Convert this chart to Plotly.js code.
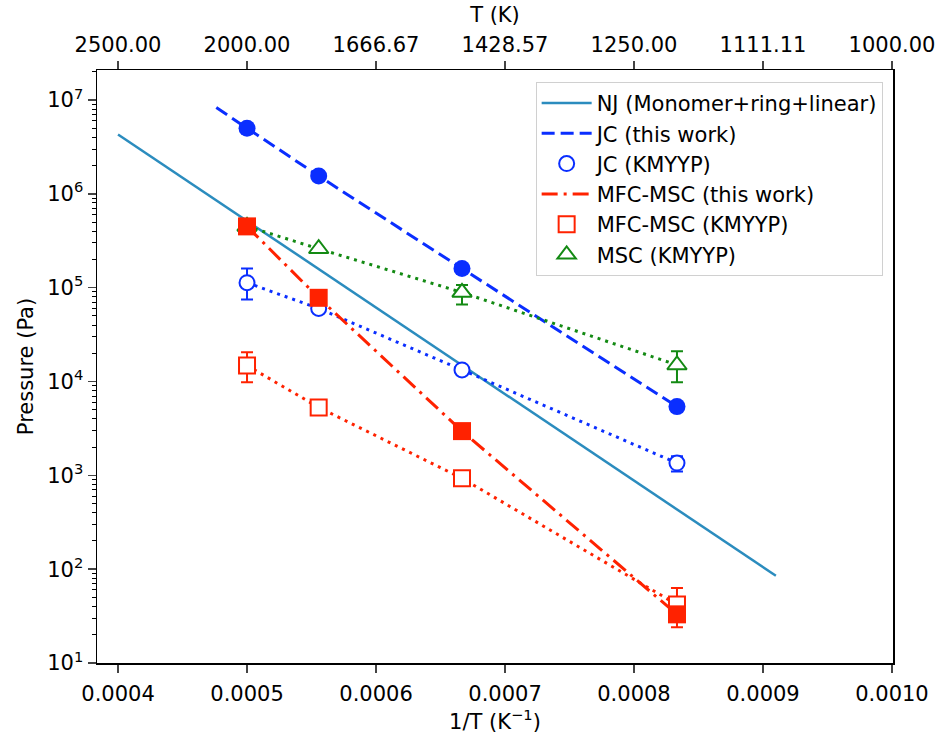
<!DOCTYPE html>
<html>
<head>
<meta charset="utf-8">
<script src="https://cdn.plot.ly/plotly-3.0.1.min.js"></script>
<style>html,body{margin:0;padding:0;background:#fff;}#chart{width:940px;height:735px;}</style>
</head>
<body>
<div id="chart"></div>
<script>
// 1/T values (K^-1)
const invT = [1/2000, 1/1800, 1/1500, 1/1200];

// NJ (Monomer+ring+linear) line endpoints
const njX = [0.0004, 0.00091];
const njY = [4.3e6, 85];

// JC (this work)
const jcLineX = [1/2100, 1/2000, 1/1800, 1/1500, 1/1200];
const jcLineY = [8.3e6, 5.0e6, 1.55e6, 1.6e5, 5.4e3];
const jcY = [5.0e6, 1.55e6, 1.6e5, 5.4e3];

// JC (KMYYP)
const jcKY = [1.13e5, 6.0e4, 1.33e4, 1.35e3];
const jcKErrPlus = [4.7e4, null, 1.5e3, 2.5e2];
const jcKErrMinus = [3.8e4, null, 1.5e3, 2.5e2];

// MFC-MSC (this work)
const mfcY = [4.5e5, 7.8e4, 2.96e3, 33];

// MFC-MSC (KMYYP)
const mfcKY = [1.48e4, 5.3e3, 9.3e2, 42];
const mfcKErrPlus = [5.7e3, null, null, 21];
const mfcKErrMinus = [5.0e3, null, null, 18];

// MSC (KMYYP)
const mscKY = [4.5e5, 2.6e5, 8.9e4, 1.5e4];
const mscKErrPlus = [null, null, 1.8e4, 6.0e3];
const mscKErrMinus = [null, null, 2.3e4, 5.2e3];

// axis ticks
const xTicks = [0.0004, 0.0005, 0.0006, 0.0007, 0.0008, 0.0009, 0.0010];
const xTickText = ['0.0004','0.0005','0.0006','0.0007','0.0008','0.0009','0.0010'];
const topTickText = ['2500.00','2000.00','1666.67','1428.57','1250.00','1111.11','1000.00'];
const yTicks = [1e1, 1e2, 1e3, 1e4, 1e5, 1e6, 1e7];
const yTickText = ['10<sup>1</sup>','10<sup>2</sup>','10<sup>3</sup>','10<sup>4</sup>','10<sup>5</sup>','10<sup>6</sup>','10<sup>7</sup>'];

const BLUE = '#0a2eff', RED = '#ff2200', GREEN = '#138a13', NJC = '#2b8cbe';
const DOT = '3px,5px';

// error-bar-only trace for the points that carry an error bar
function errTrace(ys, plus, minus, color) {
  const idx = plus.map((v, i) => v == null ? -1 : i).filter(i => i >= 0);
  return {
    x: idx.map(i => invT[i]), y: idx.map(i => ys[i]), mode: 'markers', showlegend: false,
    marker: {opacity: 0, size: 1},
    error_y: {type: 'data', symmetric: false, array: idx.map(i => plus[i]),
      arrayminus: idx.map(i => minus[i]), color: color, thickness: 2, width: 6}
  };
}

const traces = [
  {x: njX, y: njY, mode: 'lines', name: 'NJ (Monomer+ring+linear)',
   line: {color: NJC, width: 2.5}},
  {x: jcLineX, y: jcLineY, mode: 'lines', name: 'JC (this work)',
   line: {color: BLUE, width: 3, dash: '13px,6px'}},
  {x: invT, y: jcY, mode: 'markers', showlegend: false,
   marker: {color: BLUE, size: 17, symbol: 'circle'}},
  {x: invT, y: jcKY, mode: 'lines', showlegend: false,
   line: {color: BLUE, width: 3, dash: DOT}},
  errTrace(jcKY, jcKErrPlus, jcKErrMinus, BLUE),
  {x: invT, y: jcKY, mode: 'markers', name: 'JC (KMYYP)',
   marker: {color: '#fff', size: 15, symbol: 'circle', line: {color: BLUE, width: 2}}},
  {x: invT, y: mfcY, mode: 'lines', name: 'MFC-MSC (this work)',
   line: {color: RED, width: 3, dash: '16px,6px,3px,6px'}},
  {x: invT, y: mfcKY, mode: 'lines', showlegend: false,
   line: {color: RED, width: 3, dash: DOT}},
  errTrace(mfcKY, mfcKErrPlus, mfcKErrMinus, RED),
  {x: invT, y: mfcKY, mode: 'markers', name: 'MFC-MSC (KMYYP)',
   marker: {size: 16, symbol: 'square', color: '#fff', line: {color: RED, width: 2}}},
  {x: invT, y: mscKY, mode: 'lines', showlegend: false,
   line: {color: GREEN, width: 3, dash: DOT}},
  errTrace(mscKY, mscKErrPlus, mscKErrMinus, GREEN),
  {x: invT, y: mscKY, mode: 'markers', name: 'MSC (KMYYP)',
   marker: {size: 17, symbol: 'triangle-up', color: '#fff', line: {color: GREEN, width: 2}}},
  {x: invT, y: mfcY, mode: 'markers', showlegend: false,
   marker: {color: RED, size: 18, symbol: 'square'}},
  {x: [xTicks[0]], y: [1e4], xaxis: 'x2', mode: 'markers', showlegend: false, hoverinfo: 'skip',
   marker: {opacity: 0}}
];

const xr = [0.0003837, 0.0010008];
const FS = 21;
const layout = {
  width: 940, height: 735,
  margin: {l: 97, r: 47, t: 70, b: 72},
  paper_bgcolor: '#fff', plot_bgcolor: '#fff',
  font: {family: 'DejaVu Sans', size: FS, color: '#000'},
  showlegend: true,
  legend: {x: 0.987, y: 0.98, xanchor: 'right', yanchor: 'top',
    bgcolor: 'rgba(255,255,255,0.9)', bordercolor: '#d0d0d0', borderwidth: 1,
    font: {family: 'DejaVu Sans', size: 21}, tracegroupgap: 0, itemwidth: 50},
  xaxis: {range: xr, tickvals: xTicks, ticktext: xTickText, ticks: 'outside', ticklen: 8, tickwidth: 1.5,
    showline: true, linecolor: '#000', linewidth: 1.5, mirror: false, showgrid: false, zeroline: false,
    tickfont: {size: FS}, ticklabelstandoff: 3,
    title: {text: '1/T (K<sup>−1</sup>)', font: {size: FS}, standoff: 8}},
  xaxis2: {range: xr, overlaying: 'x', side: 'top', tickvals: xTicks, ticktext: topTickText,
    ticks: 'outside', ticklen: 8, tickwidth: 1.5, showline: true, linecolor: '#000', linewidth: 1.5,
    showgrid: false, zeroline: false, tickfont: {size: FS},
    title: {text: 'T (K)', font: {size: FS}, standoff: 4}},
  yaxis: {type: 'log', range: [1, 7.32], tickvals: yTicks, ticktext: yTickText, ticks: 'outside',
    ticklen: 8, tickwidth: 1.5, showline: true, linecolor: '#000', linewidth: 1.5, mirror: true,
    showgrid: false, zeroline: false, tickfont: {size: FS},
    minor: {ticks: 'outside', ticklen: 4, tickwidth: 1, tickcolor: '#000', showgrid: false, dtick: 'D1'},
    title: {text: 'Pressure (Pa)', font: {size: FS}, standoff: 8}}
};

Plotly.newPlot('chart', traces, layout, {displayModeBar: false, staticPlot: true});
</script>
</body>
</html>
